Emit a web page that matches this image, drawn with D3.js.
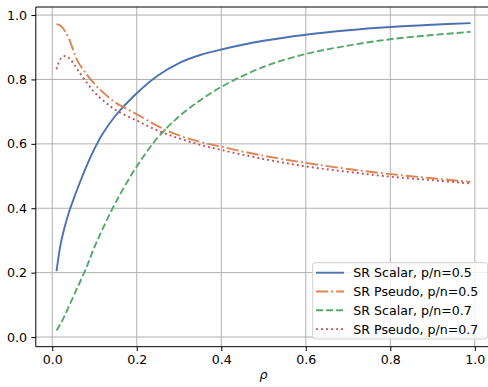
<!DOCTYPE html>
<html>
<head>
<meta charset="utf-8">
<script src="https://cdn.jsdelivr.net/npm/d3@7"></script>
<style>
    body { margin: 0; background: #fff; }
    svg { display: block; font-family: 'DejaVu Sans', sans-serif; }
    .grid line { stroke: #b0b0b0; stroke-width: 1; }
    .axis path, .axis line { stroke: #000; stroke-width: 1; }
    .axis text { font-size: 12.6px; fill: #000; }
</style>
</head>
<body>
<svg id="chart"></svg>
<script>
const rho = [0.01, 0.02, 0.03, 0.04, 0.05, 0.06, 0.08, 0.1, 0.12, 0.15, 0.2,
    0.25, 0.3, 0.35, 0.4, 0.5, 0.6, 0.7, 0.8, 0.9, 0.99];

const scalar05 = [0.205, 0.290, 0.345, 0.390, 0.427, 0.462, 0.528, 0.585, 0.633, 0.688, 0.757,
    0.812, 0.851, 0.876, 0.893, 0.920, 0.939, 0.953, 0.963, 0.970, 0.975];
const pseudo05 = [0.972, 0.967, 0.950, 0.925, 0.890, 0.857, 0.818, 0.786, 0.760, 0.728, 0.692,
    0.655, 0.626, 0.606, 0.591, 0.563, 0.541, 0.522, 0.506, 0.493, 0.482];
const scalar07 = [0.020, 0.042, 0.068, 0.097, 0.126, 0.155, 0.213, 0.280, 0.338, 0.418, 0.530,
    0.620, 0.685, 0.735, 0.777, 0.839, 0.879, 0.905, 0.925, 0.938, 0.948];
const pseudo07 = [0.832, 0.865, 0.873, 0.866, 0.850, 0.830, 0.793, 0.760, 0.735, 0.705, 0.672,
    0.641, 0.617, 0.597, 0.581, 0.553, 0.530, 0.513, 0.498, 0.487, 0.477];

const labels = ['SR Scalar, p/n=0.5', 'SR Pseudo, p/n=0.5', 'SR Scalar, p/n=0.7', 'SR Pseudo, p/n=0.7'];
const xTicks = [0, 0.2, 0.4, 0.6, 0.8, 1.0];
const yTicks = [0, 0.2, 0.4, 0.6, 0.8, 1.0];

const fullWidth = 488;
const fullHeight = 387;
const box = {left: 35.8, right: 491.3, top: 7, bottom: 346.7};

const lw = 1.9;
const styles = [
    {color: '#4c72b0', dash: null},
    {color: '#dd8452', dash: [6.4 * lw, 1.6 * lw, 1 * lw, 1.6 * lw]},
    {color: '#55a868', dash: [3.7 * lw, 1.6 * lw]},
    {color: '#c44e52', dash: [1 * lw, 1.65 * lw]},
];

const series = [scalar05, pseudo05, scalar07, pseudo07].map((values, i) => ({
    label: labels[i],
    style: styles[i],
    values: values.map((v, j) => ({x: rho[j], y: v})),
}));

const xScale = d3.scaleLinear()
    .domain([-0.039, 1.039])
    .range([box.left, box.right]);

const yScale = d3.scaleLinear()
    .domain([-0.03, 1.025])
    .range([box.bottom, box.top]);

const svg = d3.select('#chart')
    .attr('width', fullWidth)
    .attr('height', fullHeight);

// grid
const grid = svg.append('g').attr('class', 'grid');
grid.selectAll('.gx').data(xTicks).enter().append('line')
    .attr('x1', d => xScale(d)).attr('x2', d => xScale(d))
    .attr('y1', box.top).attr('y2', box.bottom);
grid.selectAll('.gy').data(yTicks).enter().append('line')
    .attr('y1', d => yScale(d)).attr('y2', d => yScale(d))
    .attr('x1', box.left).attr('x2', box.right);

// lines
const line = d3.line()
    .x(d => xScale(d.x))
    .y(d => yScale(d.y))
    .curve(d3.curveCatmullRom.alpha(0.5));

svg.append('g').selectAll('path').data(series).enter().append('path')
    .attr('d', d => line(d.values))
    .attr('fill', 'none')
    .attr('stroke', d => d.style.color)
    .attr('stroke-width', lw)
    .attr('stroke-dasharray', d => d.style.dash ? d.style.dash.join(',') : null);

// axes
const xAxis = d3.axisBottom(xScale)
    .tickValues(xTicks)
    .tickFormat(d3.format('.1f'))
    .tickSize(4.4)
    .tickPadding(4.4)
    .tickSizeOuter(0);

const yAxis = d3.axisLeft(yScale)
    .tickValues(yTicks)
    .tickFormat(d3.format('.1f'))
    .tickSize(4.4)
    .tickPadding(4.4)
    .tickSizeOuter(0);

const gx = svg.append('g').attr('class', 'axis axis--x')
    .attr('transform', `translate(0, ${box.bottom})`)
    .call(xAxis);
gx.select('.domain').attr('d', `M${box.left},0H${box.right}`);

const gy = svg.append('g').attr('class', 'axis axis--y')
    .attr('transform', `translate(${box.left}, 0)`)
    .call(yAxis);
gy.select('.domain').attr('d', `M0,${box.bottom}V${box.top}`);

svg.selectAll('.axis text').attr('font-family', 'DejaVu Sans');

// frame top / right
svg.append('line')
    .attr('x1', box.left).attr('x2', box.right)
    .attr('y1', box.top).attr('y2', box.top)
    .attr('stroke', '#000').attr('stroke-width', 1);
svg.append('line')
    .attr('x1', box.right).attr('x2', box.right)
    .attr('y1', box.top).attr('y2', box.bottom)
    .attr('stroke', '#000').attr('stroke-width', 1);

// x label
svg.append('text')
    .attr('x', (box.left + box.right) / 2)
    .attr('y', 379)
    .attr('text-anchor', 'middle')
    .attr('font-size', '12.6px')
    .attr('font-style', 'italic')
    .text('ρ');

// legend
const legend = svg.append('g').attr('class', 'legend');
legend.append('rect')
    .attr('x', 312.7).attr('y', 262.7)
    .attr('width', 175).attr('height', 76.3)
    .attr('rx', 2.5)
    .attr('fill', 'rgba(255,255,255,0.8)')
    .attr('stroke', '#d0d0d0')
    .attr('stroke-width', 1);

const item = legend.selectAll('.item').data(series).enter().append('g')
    .attr('class', 'item')
    .attr('transform', (d, i) => `translate(0, ${272.7 + i * 18.8})`);

item.append('line')
    .attr('x1', 316).attr('x2', 344)
    .attr('stroke', d => d.style.color)
    .attr('stroke-width', lw)
    .attr('stroke-dasharray', d => d.style.dash ? d.style.dash.join(',') : null);

item.append('text')
    .attr('x', 353.3)
    .attr('dy', '0.35em')
    .attr('font-size', '12.6px')
    .text(d => d.label);
</script>
</body>
</html>
